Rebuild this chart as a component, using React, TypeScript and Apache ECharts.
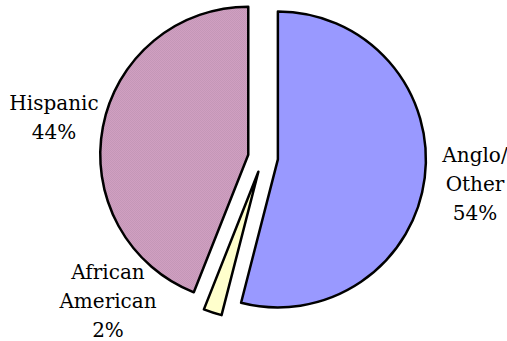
import React, { useEffect, useRef } from "react";
import * as echarts from "echarts";

// Population shares by group
const groups = ["Anglo/\nOther", "African\nAmerican", "Hispanic"];
const shares = [54, 2, 44];
const fills = ["#9999FF", "#FFFFCC", "#CC99BB"];

// Where each group's label block is centred
const LABEL_POS: [number, number][] = [
  [475, 184],
  [108, 301],
  [54, 117],
];

const SERIF = "DejaVu Serif";

function dottedPink(): HTMLCanvasElement {
  const c = document.createElement("canvas");
  c.width = 2;
  c.height = 2;
  const ctx = c.getContext("2d")!;
  ctx.fillStyle = "#DEA8CE";
  ctx.fillRect(0, 0, 2, 2);
  ctx.fillStyle = "#B68EAA";
  ctx.fillRect(0, 0, 1, 1);
  ctx.fillRect(1, 1, 1, 1);
  return c;
}

export default function App() {
  const ref = useRef<HTMLDivElement>(null);

  useEffect(() => {
    if (!ref.current) return;
    const chart = echarts.init(ref.current, null, { renderer: "svg" });
    const pattern = { image: dottedPink(), repeat: "repeat" as const };
    const total = shares.reduce((a, b) => a + b, 0);

    chart.setOption({
      animation: false,
      backgroundColor: "#ffffff",
      graphic: groups.map((g, i) => ({
        type: "text",
        x: LABEL_POS[i][0],
        y: LABEL_POS[i][1],
        silent: true,
        style: {
          text: `${g}\n${Math.round((shares[i] / total) * 100)}%`,
          fontFamily: SERIF,
          fontSize: 20,
          lineHeight: 29,
          fill: "#000000",
          align: "center",
          verticalAlign: "middle",
        },
      })),
      series: [
        {
          type: "pie",
          center: [263, 157.5],
          radius: 148,
          startAngle: 90,
          clockwise: true,
          selectedMode: "multiple",
          selectedOffset: 15,
          emphasis: { disabled: true },
          itemStyle: { borderColor: "#000000", borderWidth: 2.5 },
          label: { show: false },
          labelLine: { show: false },
          data: groups.map((g, i) => ({
            name: g,
            value: shares[i],
            selected: true,
            itemStyle: { color: i === 2 ? pattern : fills[i] },
          })),
        },
      ],
    });
    return () => chart.dispose();
  }, []);

  return (
    <div
      ref={ref}
      style={{ position: "fixed", left: 0, top: 0, width: 507, height: 341 }}
    />
  );
}
